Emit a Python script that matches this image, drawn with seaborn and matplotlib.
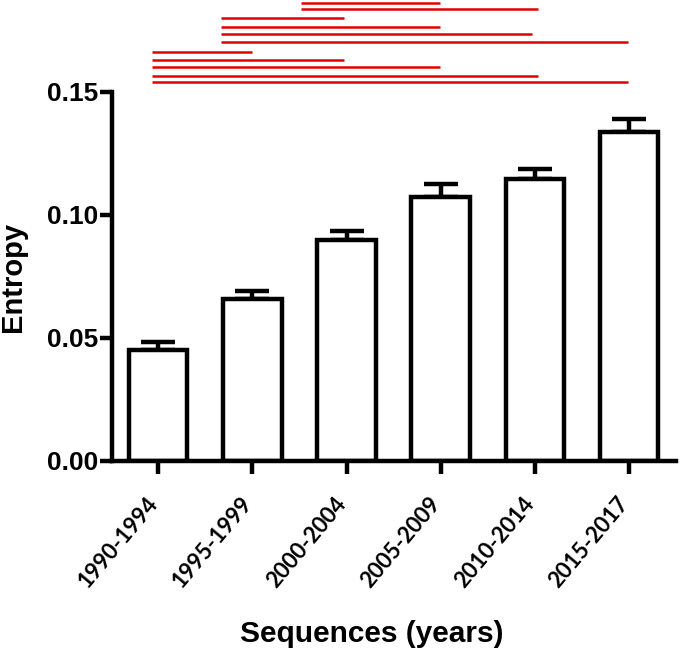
import numpy as np
import matplotlib
matplotlib.use("Agg")
import matplotlib.pyplot as plt
import matplotlib.transforms as mtransforms
import seaborn as sns

# data
periods = ["1990-1994", "1995-1999", "2000-2004", "2005-2009", "2010-2014", "2015-2017"]
entropy = [0.0451, 0.0657, 0.0898, 0.1074, 0.1146, 0.1339]
sem = [0.0034, 0.0035, 0.0038, 0.0051, 0.0042, 0.0052]

# significance bars (x in category units, y in data units)
sig_start = [1.52, 1.52, 0.67, 0.67, 0.67, 0.67, -0.07, -0.07, -0.07, -0.07, -0.07]
sig_end = [2.99, 4.03, 1.97, 2.99, 3.97, 4.99, 1.0, 1.97, 2.99, 4.03, 4.99]
sig_y = [0.1862, 0.1837, 0.1799, 0.1765, 0.1736, 0.1705, 0.1664, 0.1630, 0.1602, 0.1567, 0.1541]

sns.set_style("ticks", {"axes.edgecolor": "black", "text.color": "black",
                        "axes.labelcolor": "black", "xtick.color": "black",
                        "ytick.color": "black"})
plt.rcParams["font.family"] = ["Liberation Sans", "DejaVu Sans"]
plt.rcParams["font.weight"] = "bold"

fig = plt.figure(figsize=(6.8, 6.52), dpi=100)
ax = fig.add_axes([0.165, 0.293, 0.829, 0.707])

sns.barplot(x=periods, y=entropy, color="white", edgecolor="black",
            linewidth=3.2, width=0.62, errorbar=None, ax=ax, zorder=2)
ax.errorbar(np.arange(len(periods)), entropy, yerr=[np.zeros(len(sem)), sem],
            fmt="none", ecolor="black", elinewidth=3.2, capsize=12, capthick=3.2, zorder=1)

ax.hlines(sig_y, sig_start, sig_end, colors="#e30000", linewidth=1.8, clip_on=False)

ax.set_xlim(-0.49, 5.5)
ax.set_ylim(0, 0.1874)
ax.set_yticks([0.0, 0.05, 0.10, 0.15])
ax.set_yticklabels(["0.00", "0.05", "0.10", "0.15"])

sns.despine(ax=ax)
ax.spines["left"].set_bounds(0, 0.15)
for s in ["left", "bottom"]:
    ax.spines[s].set_linewidth(3.2)
ax.tick_params(axis="both", width=3.2, length=9, direction="out", colors="black")
ax.tick_params(axis="y", labelsize=19, pad=1)
ax.tick_params(axis="x", pad=14)

# nudge the rotated labels a little to the left, like the original
shift = mtransforms.ScaledTranslation(-0.12, 0, fig.dpi_scale_trans)
for lab in ax.get_xticklabels():
    lab.set_family(["Lato", "DejaVu Sans"])
    lab.set_fontweight("bold")
    lab.set_fontsize(16)
    lab.set_rotation(50)
    lab.set_ha("right")
    lab.set_rotation_mode("anchor")
    lab.set_transform(lab.get_transform() + shift)

ax.set_xlabel("Sequences (years)", fontsize=21.5, fontweight="bold")
ax.set_ylabel("Entropy", fontsize=21, fontweight="bold")
ax.xaxis.set_label_coords(0.46, -0.345)
ax.yaxis.set_label_coords(-0.152, 0.40)

fig.savefig("out.png", dpi=100)
